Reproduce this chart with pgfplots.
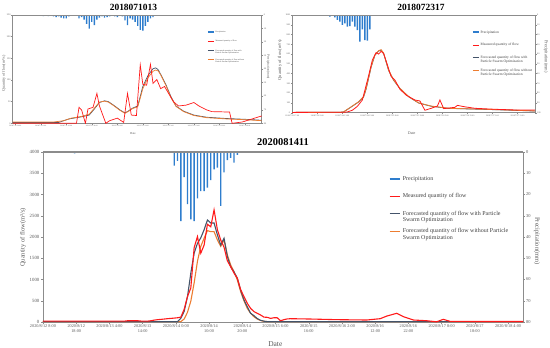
\documentclass[border=0pt]{standalone}
\usepackage{fontspec}
\setmainfont{Liberation Serif}
\usepackage{pgfplots}
\pgfplotsset{compat=1.18}
\definecolor{precip}{HTML}{2E7DCD}
\definecolor{meas}{HTML}{FF1A1A}
\definecolor{pso}{HTML}{44546A}
\definecolor{nopso}{HTML}{ED7D31}
\definecolor{axgray}{HTML}{8C8C8C}
\definecolor{txtgray}{HTML}{595959}
\definecolor{legtxt}{HTML}{404040}
\newcommand\fs[1]{\fontsize{#1}{#1}\selectfont}
\pgfplotsset{
  base/.style={
    scale only axis, clip mode=individual,
    axis line style={axgray, line width=0.5bp},
    /pgf/number format/assume math mode=true,
    /pgf/number format/set thousands separator={},
    every tick/.style={axgray, line width=0.4bp},
    tick align=outside, major tick length=1.5bp,
    ticklabel style={text=txtgray, inner sep=0pt},
    legend cell align=left,
  },
}
\begin{document}
\begin{tikzpicture}
\useasboundingbox (0,0) rectangle (550bp,-348bp);

% ================= Panel 1 : 2018071013 =================
\begin{axis}[base,
  at={(12.7bp,-123.3bp)}, anchor=south west, width=249bp, height=108.3bp,
  xmin=0, xmax=97.6, ymin=0, ymax=80, y dir=reverse,
  axis y line*=right, axis x line=none,
  ytick={0,10,...,80},
  yticklabel style={font=\fs{2.3}, anchor=west, xshift=0.5bp},
  ylabel={Precipitation(mm)},
  every axis y label/.style={at={(axis description cs:1,0.524)}, xshift=6.5bp, rotate=-90, anchor=center, font=\fs{3.4}, text=txtgray},
]
\addplot[ybar, bar width=0.55, fill=precip, draw=none] coordinates {
(12,0.8)(13,0.5)(14,0.8)(15,0.5)(16,1)(17,1.5)(18,1)(19,2)(20,2.5)(21,2.5)(22,1)(24,0.5)
(26,2.5)(27,1.5)(28,3.5)(29,6.5)(30,10)(31,5)(32,7.5)(33,3.5)(34,2)(35,1)(36,2)(37,1.5)
(38,1)(39,0.5)(40,1)(41,1.5)(42,0.5)(43,1)(44,4)(45,7.5)(46,2.5)(47,3.5)(48,5)(49,8)
(50,11)(51,11.5)(52,8)(53,5)(54,2.5)(55,1.5)(56,0.5)(57,0.5)(58,0.3)(61,0.3)(62,0.3)};
\end{axis}

\begin{axis}[base,
  at={(12.7bp,-123.3bp)}, anchor=south west, width=249bp, height=108.3bp,
  xmin=0, xmax=97.6, ymin=0, ymax=250,
  xtick={1,11,21,31,41,51,61,71,81,91}, xtick pos=left, ytick pos=left,
  xticklabels={{2018/7/10 14:00},{2018/7/11 0:00},{2018/7/11 10:00},{2018/7/11 20:00},{2018/7/12 6:00},{2018/7/12 16:00},{2018/7/13 2:00},{2018/7/13 12:00},{2018/7/13 22:00},{2018/7/14 8:00}},
  xticklabel style={font=\fs{1.8}, yshift=-0.3bp},
  ytick={0,50,...,250},
  yticklabel style={font=\fs{2.4}, xshift=-0.5bp},
  xlabel={Date},
  every axis x label/.style={at={(axis description cs:0.483,0)}, anchor=north, yshift=-5.6bp, font=\fs{3}, text=txtgray},
  ylabel={Quantity of flow(m³/s)},
  every axis y label/.style={at={(axis description cs:0,0.46)}, xshift=-8.7bp, rotate=90, anchor=center, font=\fs{4}, text=txtgray},
  title={2018071013},
  every axis title/.style={at={(axis description cs:0.485,1)}, anchor=south, inner sep=0pt, yshift=4bp, font=\fontsize{9.5}{10}\selectfont\bfseries},
  legend style={at={(0.780,0.853)}, anchor=north west, draw=none, fill=none, inner sep=0pt,
    font=\fontsize{2}{2.6}\selectfont, text=legtxt, row sep=7.2bp, column sep=1bp,
    nodes={inner sep=0pt, text height=1.5bp, text depth=0.5bp}},
  legend image code/.code={\draw[#1] (0bp,0bp) -- (6bp,0bp);},
]
\addlegendimage{precip, line width=1.4bp}
\addlegendentry{Precipitation}
\addlegendimage{meas, line width=0.6bp}
\addlegendentry{Measured quantity of flow}
\addlegendimage{pso, line width=0.6bp}
\addlegendentry{\parbox[t]{60bp}{Forecasted quantity of flow with\\Particle Swarm Optimization}}
\addlegendimage{nopso, line width=0.6bp}
\addlegendentry{\parbox[t]{60bp}{Forecasted quantity of flow without\\Particle Swarm Optimization}}
\addplot[forget plot, pso, line width=0.7bp] coordinates {
(0,2)(18,2)(22,10)(27,15)(30,19)(32,33)(34,48)(36,52)(37.5,50)(39.5,42)(42,31)(44,24)
(45.5,29)(47,35)(49,40)(50,62)(51,85)(53,110)(55,126)(56,128)(57,124)(58,113)(60,90)
(62,62)(64,40)(67,28)(71,19)(76,14)(84,11)(92,9)(97.6,7)};
\addplot[forget plot, nopso, line width=0.7bp] coordinates {
(0,3)(16,3)(20,6)(23,12)(27,16)(30,21)(32,35)(34,49)(36,51)(37.5,49)(39.5,41)(42,30)
(44,23)(45.5,28)(47,34)(49,38)(50,58)(51,80)(53,105)(55,120)(56,123)(57,121)(58,112)
(60,88)(62,60)(64,39)(67,27)(71,18)(76,13)(84,10)(92,8)(97.6,6)};
\addplot[forget plot, meas, line width=0.7bp] coordinates {
(0,0)(25,0)(26,37)(27,31)(28.5,0)(29.5,33)(31.5,37)(33,69)(34,40)(36.5,0)(38,6)(41,12)
(43.5,2)(45,69)(46.5,19)(48.5,18)(50,135)(51,90)(52.5,88)(54,136)(55,92)(56.5,101)
(58,80)(59.5,85)(61,70)(63,50)(65,40)(68,42)(71,48)(73,40)(76,31)(78,27)(85,26)(86,0)
(90,3)(97.6,17)};
\end{axis}

% ================= Panel 2 : 2018072317 =================
\begin{axis}[base,
  at={(292.3bp,-112.7bp)}, anchor=south west, width=242.7bp, height=97.7bp,
  xmin=0, xmax=97, ymin=0, ymax=100, y dir=reverse,
  axis y line*=right, axis x line=none,
  ytick={0,10,...,100},
  yticklabel style={font=\fs{2.3}, anchor=west, xshift=0.5bp},
  ylabel={Precipitation(mm)},
  every axis y label/.style={at={(axis description cs:1,0.575)}, xshift=11bp, rotate=-90, anchor=center, font=\fs{4.5}, text=txtgray},
]
\addplot[ybar, bar width=0.55, fill=precip, draw=none] coordinates {
(15,1.7)(16,1)(17,2.4)(18,5.1)(19,6.8)(20,10.2)(21,8.5)(22,11.9)(23,11.3)(24,6.8)(25,11.9)
(26,15.4)(27,27.3)(28,14.7)(29,25.6)(30,26.3)(31,14.7)(32,1)(33,0.7)(35,0.5)(37,0.5)
(44,1)(45,0.5)};
\end{axis}

\begin{axis}[base,
  at={(292.3bp,-112.7bp)}, anchor=south west, width=242.7bp, height=97.7bp,
  xmin=0, xmax=97, ymin=0, ymax=1000,
  xtick={0,10,...,90}, xtick pos=left, ytick pos=left,
  xticklabels={{2018/7/23 17:00},{2018/7/24 3:00},{2018/7/24 13:00},{2018/7/24 23:00},{2018/7/25 9:00},{2018/7/25 19:00},{2018/7/26 5:00},{2018/7/26 15:00},{2018/7/27 1:00},{2018/7/27 11:00}},
  xticklabel style={font=\fs{2.1}, yshift=-0.3bp},
  ytick={0,100,...,1000},
  yticklabel style={font=\fs{2.3}, xshift=-0.5bp},
  xlabel={Date},
  every axis x label/.style={at={(axis description cs:0.492,0)}, anchor=north, yshift=-15.9bp, font=\fs{4}, text=txtgray},
  ylabel={Quantity of flow(m³/s)},
  every axis y label/.style={at={(axis description cs:0,0.54)}, xshift=-12.3bp, rotate=90, anchor=center, font=\fs{4.5}, text=txtgray},
  title={2018072317},
  every axis title/.style={at={(axis description cs:0.53,1)}, anchor=south, inner sep=0pt, yshift=4.5bp, font=\fontsize{9.5}{10}\selectfont\bfseries},
  legend style={at={(0.740,0.843)}, anchor=north west, draw=none, fill=none, inner sep=0pt,
    font=\fontsize{3.6}{3.9}\selectfont, text=legtxt, row sep=9.3bp, column sep=1bp,
    nodes={inner sep=0pt, text height=2.6bp, text depth=0.8bp}},
  legend image code/.code={\draw[#1] (0bp,0bp) -- (6bp,0bp);},
]
\addlegendimage{precip, line width=1.6bp}
\addlegendentry{Precipitation}
\addlegendimage{meas, line width=0.7bp}
\addlegendentry{Measured quantity of flow}
\addlegendimage{pso, line width=0.7bp}
\addlegendentry{\parbox[t]{80bp}{Forecasted quantity of flow with\\Particle Swarm Optimization}}
\addlegendimage{nopso, line width=0.7bp}
\addlegendentry{\parbox[t]{80bp}{Forecasted quantity of flow without\\Particle Swarm Optimization}}
\addplot[forget plot, pso, line width=0.8bp] coordinates {
(0,3)(19,4)(20.5,8)(23.5,58)(26.5,110)(28.5,162)(29.5,242)(31.5,466)(33,588)(34.5,632)
(35.5,640)(36.5,606)(38.5,432)(40.5,332)(43,248)(46.5,163)(50.5,99)(55.5,66)(62.5,44)
(73,37)(86,27)(97,17)};
\addplot[forget plot, nopso, line width=0.8bp] coordinates {
(0,3)(19,4)(20.5,8)(23.5,60)(26.5,112)(28.5,165)(29.5,245)(31.5,470)(33,590)(34.5,635)
(35.5,645)(36.5,610)(38.5,435)(40.5,335)(43,250)(46.5,165)(50.5,100)(55.5,68)(62.5,45)
(73,38)(86,28)(97,18)};
\addplot[forget plot, meas, line width=0.8bp] coordinates {
(0,3)(21,5)(22,8)(24,25)(26,65)(28,130)(29,230)(30.5,380)(32,540)(33.5,615)(34.5,600)
(35.5,628)(36.5,605)(38,490)(39.5,370)(41,335)(43,240)(45.5,180)(49,130)(51,120)(53,25)
(55.5,45)(58,68)(59,130)(60.5,42)(65,55)(66,75)(69,60)(73,45)(81,35)(89,28)(97,27)};
\end{axis}

% ================= Panel 3 : 2020081411 =================
\begin{axis}[base,
  at={(43bp,-322bp)}, anchor=south west, width=480bp, height=170bp,
  xmin=-0.5, xmax=144, ymin=0, ymax=80, y dir=reverse,
  axis y line*=right, axis x line=none,
  ytick={0,10,...,80},
  yticklabel style={font=\fs{4.5}, anchor=west, xshift=1.5bp},
  ylabel={Precipitation(mm)},
  every axis y label/.style={at={(axis description cs:1,0.476)}, xshift=14bp, rotate=-90, anchor=center, font=\fs{6.5}, text=txtgray},
]
\addplot[ybar, bar width=0.42, fill=precip, draw=none] coordinates {
(9,0.6)(11,0.4)
(39,6.4)(40,4.2)(41,32.5)(42,11.8)(43,24.5)(44,31.7)(45,32.5)(46,21.8)(47,18.4)(48,18.4)
(49,16.8)(50,13.2)(51,8.2)(52,7.4)(53,25.3)(54,9.6)(55,3.8)(56,2.8)(57,5.0)(58,1.3)(59,0.3)};
\end{axis}

\begin{axis}[base,
  at={(43bp,-322bp)}, anchor=south west, width=480bp, height=170bp,
  xmin=-0.5, xmax=144, ymin=0, ymax=4000,
  xtick={-0.5,9.5,19.5,29.5,39.5,49.5,59.5,69.5,79.5,89.5,99.5,109.5,119.5,129.5,139.5},
  xtick pos=left, ytick pos=left,
  xticklabels={{2020/8/12 8:00},{2020/8/12\\18:00},{2020/8/13 4:00},{2020/8/13\\14:00},{2020/8/14 0:00},{2020/8/14\\10:00},{2020/8/14\\20:00},{2020/8/15 6:00},{2020/8/15\\16:00},{2020/8/16 2:00},{2020/8/16\\12:00},{2020/8/16\\22:00},{2020/8/17 8:00},{2020/8/17\\18:00},{2020/8/18 4:00}},
  xticklabel style={font=\fontsize{4.3}{5.3}\selectfont, align=center, yshift=-0.5bp},
  ytick={0,500,...,4000},
  yticklabel style={font=\fs{4.8}, xshift=-2bp},
  xlabel={Date},
  every axis x label/.style={at={(axis description cs:0.484,0)}, anchor=north, yshift=-16.5bp, font=\fs{7.5}, text=txtgray},
  ylabel={Quantity of flow(m³/s)},
  every axis y label/.style={at={(axis description cs:0,0.497)}, xshift=-20bp, rotate=90, anchor=center, font=\fs{6.5}, text=txtgray},
  title={2020081411},
  every axis title/.style={at={(axis description cs:0.5,1)}, anchor=south, inner sep=0pt, yshift=6bp, font=\fontsize{10.5}{11}\selectfont\bfseries},
  legend style={at={(0.719,0.858)}, anchor=north west, draw=none, fill=none, inner sep=0pt,
    font=\fontsize{6}{6.5}\selectfont, text=legtxt, row sep=11.5bp, column sep=2bp,
    nodes={inner sep=0pt, text height=4.3bp, text depth=1.5bp}},
  legend image code/.code={\draw[#1] (0bp,0bp) -- (10bp,0bp);},
  after end axis/.code={\draw[axgray, line width=1.2bp] (rel axis cs:0,1) -- (rel axis cs:1,1);},
]
\addlegendimage{precip, line width=2.5bp}
\addlegendentry{Precipitation}
\addlegendimage{meas, line width=1.1bp}
\addlegendentry{Measured quantity of flow}
\addlegendimage{pso, line width=1.1bp}
\addlegendentry{\parbox[t]{140bp}{Forecasted quantity of flow with Particle\\Swarm Optimization}}
\addlegendimage{nopso, line width=1.1bp}
\addlegendentry{\parbox[t]{140bp}{Forecasted quantity of flow without Particle\\Swarm Optimization}}
\addplot[forget plot, nopso, line width=1.1bp] coordinates {
(-0.5,10)(41,10)(42,70)(43,230)(44,490)(45,920)(46,1430)(47,1780)(48,1970)(49,2150)
(50,2125)(51,2125)(52,1930)(53,1780)(54,1930)(55,1580)(56,1340)(57,1185)(58,990)(59,715)
(60,500)(61,320)(62,205)(63,125)(64,70)(65,35)(66,15)(67,10)(144,10)};
\addplot[forget plot, pso, line width=1.1bp] coordinates {
(-0.5,8)(40,8)(41,90)(42,250)(43,600)(44,1150)(45,1620)(46,1850)(47,1980)(48,2170)
(49,2400)(50,2330)(51,2330)(52,2050)(53,1810)(54,1970)(55,1540)(56,1300)(57,1180)(58,1030)
(59,750)(60,520)(61,360)(62,205)(63,150)(64,80)(65,40)(66,20)(67,8)(144,8)};
\addplot[forget plot, meas, line width=1.1bp] coordinates {
(-0.5,20)(24,20)(25,30)(28,30)(29,22)(31,20)(32,30)(33,45)(34,55)(35,62)(36,70)(37,78)
(38,85)(39,92)(40,100)(41,115)(42,300)(43,600)(44,800)(45,1750)(46,2010)(47,1620)(48,1810)
(49,2300)(50,2240)(51,2640)(52,2170)(53,1930)(54,1760)(55,1440)(56,1300)(57,1150)(58,1030)
(59,760)(60,600)(61,440)(62,320)(63,245)(64,205)(65,165)(66,115)(67,110)(68,85)(69,100)
(70,100)(71,30)(72,55)(73,72)(74,78)(80,70)(88,55)(97,47)(101,78)(103,140)(106,205)
(108,125)(111,47)(115,30)(118,5)(120,63)(122,16)(130,12)(144,12)};
\end{axis}
\end{tikzpicture}
\end{document}
